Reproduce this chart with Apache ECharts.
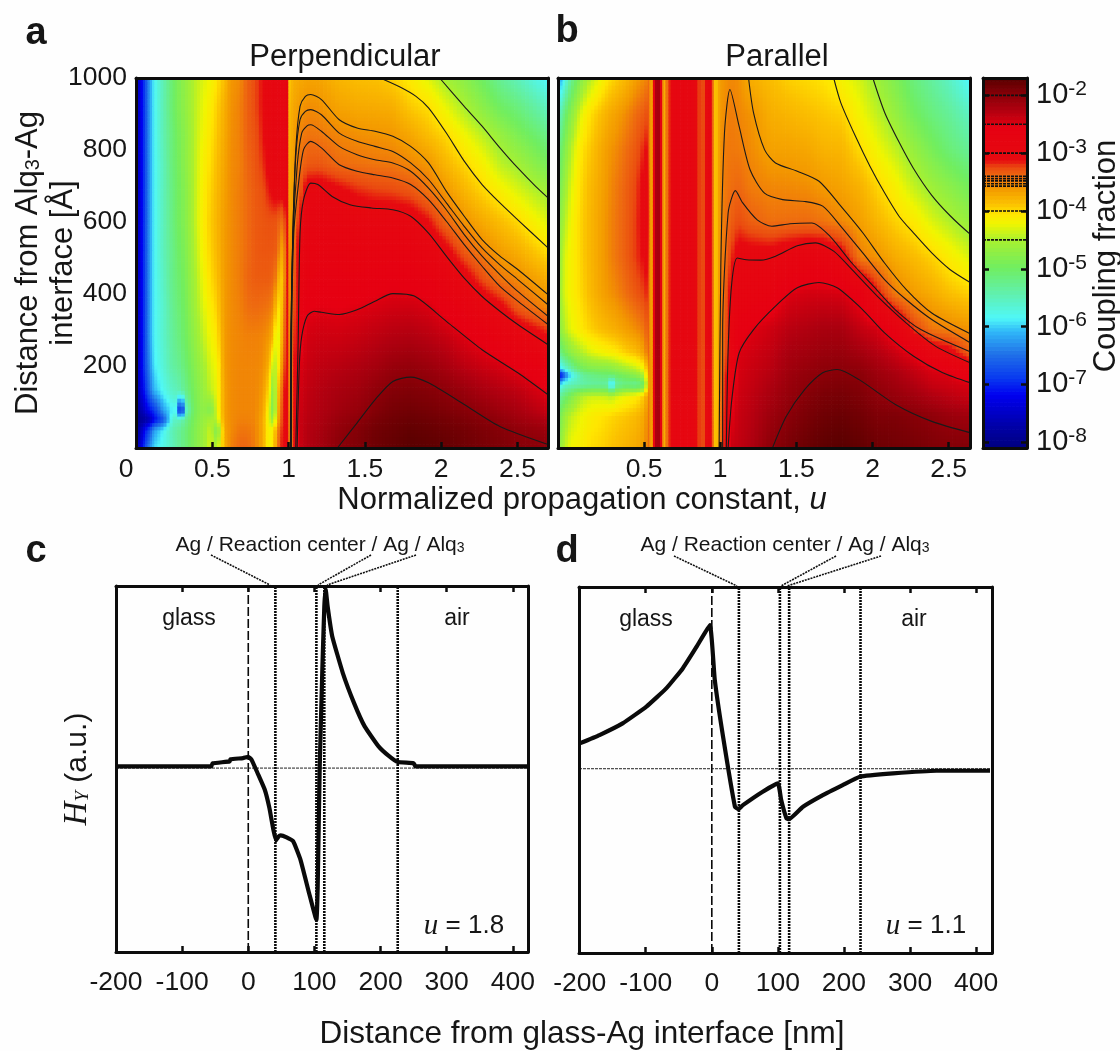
<!DOCTYPE html>
<html><head><meta charset="utf-8">
<style>html,body{margin:0;padding:0;background:#fff}#c{width:1120px;height:1051px}</style>
<script src="https://cdn.jsdelivr.net/npm/echarts@6/dist/echarts.min.js"></script>
</head><body><div id="c"></div>
<script>
// ---------- Colour scale (log10 coupling fraction -> colour)
const colourStops = [[-8.1,'#00007e'],[-7.65,'#0000b0'],[-7.18,'#0000f0'],[-6.9,'#0838f0'],[-6.48,'#2070e8'],[-6.08,'#30b8f8'],[-5.85,'#50f8f8'],[-5.44,'#60f0b0'],[-4.98,'#70ee60'],[-4.5,'#a8f030'],[-4.22,'#f0f500'],[-4.05,'#ffe600'],[-3.87,'#fbc000'],[-3.6,'#f39800'],[-3.4,'#ee6a10'],[-3.24,'#ea4a10'],[-3.12,'#e60a10'],[-2.54,'#e60012'],[-2.48,'#d80010'],[-2.25,'#b00010'],[-2,'#8a0008'],[-1.7,'#5a0000']];
const colourBarLevels = [-8.1,-7.65,-7.18,-6.9,-6.48,-6.08,-5.85,-5.44,-4.98,-4.5,-4.22,-4.05,-3.87,-3.6,-3.4,-3.24,-3.12,-2.54,-2.48,-2.25,-2,-1.7];
const contourLevels = [-2,-2.5,-3,-3.4,-3.44,-3.48,-3.53,-3.57,-4,-4.5];
const colourBarTicks = [-8,-7,-6,-5,-4,-3,-2];

// ---------- Panel a: Perpendicular
const perpU = [0,.03,.06,.09,.12,.18,.24,.27,.295,.32,.38,.44,.49,.53,.58,.62,.68,.73,.78,.83,.87,.9,.925,.945,.965,.985,.997,1.0,1.03,1.07,1.12,1.2,1.33,1.45,1.57,1.68,1.8,1.92,2.03,2.15,2.27,2.39,2.5,2.7];
const perpY = [1000,920,840,760,680,600,520,440,360,280,200,130,75,50,20,-28];
const perpLog = [
[-7.7,-7.7,-7.7,-7.7,-7.7,-7.7,-7.7,-7.7,-7.7,-7.7,-7.7,-7.8,-7.9,-8,-7.9,-7.8],
[-7.3,-7.3,-7.3,-7.3,-7.3,-7.3,-7.3,-7.3,-7.3,-7.3,-7.3,-7.4,-7.7,-7.9,-7.6,-7.4],
[-6.8,-6.8,-6.8,-6.8,-6.8,-6.8,-6.8,-6.8,-6.8,-6.8,-6.8,-7,-7.4,-7.8,-7.1,-6.8],
[-6.2,-6.2,-6.2,-6.2,-6.2,-6.2,-6.2,-6.2,-6.2,-6.2,-6.3,-6.5,-7.1,-7.6,-6.7,-6.3],
[-5.85,-5.85,-5.85,-5.85,-5.85,-5.85,-5.85,-5.85,-5.85,-5.85,-5.9,-6.1,-6.9,-7.2,-6.2,-5.95],
[-5.45,-5.45,-5.45,-5.5,-5.5,-5.5,-5.5,-5.55,-5.6,-5.6,-5.65,-5.8,-6.2,-6.7,-5.85,-5.75],
[-5.05,-5.05,-5.1,-5.1,-5.15,-5.15,-5.2,-5.2,-5.25,-5.3,-5.35,-5.55,-5.85,-5.6,-5.45,-5.5],
[-4.9,-4.9,-4.95,-5,-5,-5,-5.05,-5.1,-5.15,-5.2,-5.3,-5.5,-5.9,-5.55,-5.35,-5.35],
[-4.8,-4.8,-4.85,-4.85,-4.9,-4.9,-4.95,-5,-5.05,-5.1,-5.2,-5.4,-7.8,-5.5,-5.25,-5.25],
[-4.7,-4.7,-4.75,-4.75,-4.8,-4.8,-4.85,-4.9,-4.95,-5,-5.1,-5.25,-5.7,-5.3,-5.15,-5.15],
[-4.45,-4.45,-4.45,-4.45,-4.45,-4.45,-4.5,-4.55,-4.6,-4.7,-4.8,-4.9,-4.95,-4.9,-4.85,-4.85],
[-4.3,-4.25,-4.2,-4.15,-4.12,-4.1,-4.15,-4.22,-4.3,-4.4,-4.55,-4.65,-4.7,-4.65,-4.6,-4.6],
[-4.2,-4.1,-4.05,-4,-3.95,-3.92,-3.95,-4,-4.1,-4.2,-4.3,-4.4,-4.85,-4.5,-4.35,-4.3],
[-4.05,-3.95,-3.9,-3.85,-3.82,-3.8,-3.82,-3.87,-3.95,-4.05,-4.2,-4.25,-4.3,-4.45,-4.9,-4.5],
[-3.85,-3.75,-3.72,-3.68,-3.65,-3.62,-3.62,-3.62,-3.62,-3.62,-3.62,-3.65,-3.65,-3.65,-3.68,-3.75],
[-3.6,-3.58,-3.56,-3.55,-3.55,-3.55,-3.55,-3.55,-3.55,-3.55,-3.55,-3.55,-3.55,-3.55,-3.55,-3.5],
[-3.55,-3.5,-3.5,-3.5,-3.48,-3.48,-3.48,-3.48,-3.5,-3.52,-3.52,-3.52,-3.52,-3.5,-3.45,-3.38],
[-3.35,-3.35,-3.35,-3.38,-3.4,-3.4,-3.4,-3.38,-3.42,-3.5,-3.52,-3.52,-3.52,-3.5,-3.45,-3.38],
[-3.25,-3.25,-3.28,-3.3,-3.32,-3.32,-3.32,-3.33,-3.4,-3.5,-3.52,-3.52,-3.52,-3.52,-3.5,-3.48],
[-3.12,-3.12,-3.15,-3.2,-3.28,-3.3,-3.3,-3.33,-3.42,-3.52,-3.55,-3.6,-3.65,-3.7,-3.7,-3.7],
[-3,-3,-3,-3.05,-3.15,-3.28,-3.3,-3.33,-3.45,-3.6,-3.75,-4,-4.2,-4.25,-4.2,-4.2],
[-2.95,-2.95,-2.95,-2.98,-3.08,-3.28,-3.3,-3.38,-3.55,-3.8,-4.5,-4.9,-5,-4.7,-4.1,-4],
[-2.95,-2.95,-2.95,-2.98,-3.05,-3.3,-3.35,-3.55,-4,-4.5,-4.3,-4.05,-3.95,-3.85,-3.6,-3.5],
[-2.95,-2.95,-2.95,-3,-3.05,-3.4,-3.6,-4,-4.05,-4,-3.85,-3.6,-3.45,-3.4,-3.3,-3.25],
[-2.95,-2.95,-2.95,-3,-3.05,-3.4,-3.75,-3.8,-3.7,-3.6,-3.4,-3.25,-3.2,-3.15,-3.1,-3.05],
[-2.95,-2.95,-2.95,-2.97,-3,-3.1,-3.2,-3.25,-3.15,-3.1,-3.05,-3,-3,-2.95,-2.95,-2.95],
[-2.9,-2.9,-2.9,-2.9,-2.9,-2.9,-2.9,-2.9,-2.9,-2.9,-2.9,-2.9,-2.9,-2.9,-2.9,-2.9],
[-3.95,-3.85,-3.8,-3.75,-3.7,-3.65,-3.6,-3.6,-3.6,-3.6,-3.6,-3.6,-3.6,-3.6,-3.6,-3.6],
[-3.75,-3.7,-3.68,-3.65,-3.62,-3.6,-3.5,-3.45,-3.4,-3.35,-3.3,-3.3,-3.3,-3.3,-3.3,-3.3],
[-3.72,-3.62,-3.5,-3.43,-3.33,-3.1,-2.95,-2.85,-2.75,-2.65,-2.5,-2.45,-2.42,-2.4,-2.4,-2.4],
[-3.68,-3.55,-3.44,-3.32,-2.97,-2.88,-2.8,-2.7,-2.55,-2.45,-2.4,-2.35,-2.32,-2.3,-2.28,-2.27],
[-3.68,-3.57,-3.45,-3.3,-2.95,-2.85,-2.75,-2.65,-2.52,-2.42,-2.34,-2.28,-2.25,-2.23,-2.2,-2.18],
[-3.8,-3.68,-3.52,-3.4,-3.05,-2.87,-2.75,-2.65,-2.54,-2.42,-2.3,-2.2,-2.15,-2.1,-2.05,-2],
[-3.85,-3.72,-3.56,-3.43,-3.15,-2.93,-2.78,-2.66,-2.51,-2.38,-2.25,-2.15,-2.08,-2.02,-1.96,-1.93],
[-3.87,-3.73,-3.58,-3.45,-3.2,-2.95,-2.78,-2.62,-2.47,-2.32,-2.18,-2.04,-1.96,-1.9,-1.85,-1.82],
[-3.95,-3.75,-3.6,-3.46,-3.22,-2.93,-2.75,-2.58,-2.43,-2.27,-2.1,-1.96,-1.88,-1.84,-1.8,-1.76],
[-4.1,-3.92,-3.7,-3.52,-3.28,-2.96,-2.77,-2.6,-2.42,-2.25,-2.07,-1.94,-1.85,-1.8,-1.75,-1.7],
[-4.3,-4.02,-3.85,-3.6,-3.43,-3.12,-2.88,-2.68,-2.47,-2.3,-2.12,-1.97,-1.88,-1.83,-1.78,-1.72],
[-4.55,-4.25,-3.98,-3.8,-3.58,-3.38,-3.05,-2.83,-2.6,-2.37,-2.2,-2.02,-1.93,-1.87,-1.82,-1.76],
[-4.75,-4.5,-4.2,-3.97,-3.78,-3.57,-3.32,-3,-2.73,-2.5,-2.32,-2.1,-1.98,-1.92,-1.86,-1.82],
[-5,-4.75,-4.42,-4.15,-3.95,-3.72,-3.5,-3.25,-2.9,-2.6,-2.4,-2.2,-2.05,-1.98,-1.92,-1.88],
[-5.3,-5,-4.65,-4.42,-4.12,-3.85,-3.65,-3.45,-3.05,-2.75,-2.47,-2.27,-2.13,-2.05,-1.97,-1.92],
[-5.5,-5.15,-4.85,-4.55,-4.28,-3.98,-3.75,-3.53,-3.3,-2.87,-2.57,-2.33,-2.2,-2.13,-2.03,-1.97],
[-5.9,-5.55,-5.2,-4.9,-4.55,-4.3,-4.02,-3.75,-3.53,-3.1,-2.75,-2.53,-2.38,-2.25,-2.12,-2]
];
const perpContours = [
[[1.99,1000],[2.151,921],[2.268,866],[2.385,806],[2.502,750],[2.619,699],[2.7,667]],
[[1.6,1000],[1.73,975],[1.835,949],[1.917,917],[2.034,847],[2.151,769],[2.268,704],[2.385,653],[2.502,606],[2.7,528]],
[[1.012,-28],[1.015,292],[1.028,569],[1.047,801],[1.075,921],[1.11,949],[1.145,954],[1.215,940],[1.332,884],[1.449,861],[1.566,852],[1.683,838],[1.8,810],[1.917,764],[2.034,685],[2.151,616],[2.268,551],[2.385,505],[2.502,468],[2.7,398]],
[[1.014,-28],[1.016,292],[1.028,569],[1.047,782],[1.075,884],[1.11,907],[1.145,912],[1.215,898],[1.332,847],[1.449,824],[1.566,810],[1.683,796],[1.8,764],[1.917,718],[2.034,653],[2.151,588],[2.268,528],[2.385,481],[2.502,440],[2.7,370]],
[[1.016,-28],[1.018,292],[1.03,569],[1.056,755],[1.086,847],[1.121,867],[1.145,870],[1.215,852],[1.332,810],[1.449,787],[1.566,773],[1.683,764],[1.8,741],[1.917,694],[2.034,634],[2.151,565],[2.268,505],[2.385,454],[2.502,407],[2.7,338]],
[[1.018,-28],[1.02,292],[1.034,569],[1.063,699],[1.098,801],[1.145,824],[1.215,806],[1.332,759],[1.449,741],[1.566,731],[1.683,722],[1.8,704],[1.917,662],[2.034,602],[2.151,537],[2.268,477],[2.385,421],[2.502,380],[2.7,315]],
[[1.047,-28],[1.063,273],[1.075,569],[1.098,662],[1.145,708],[1.192,704],[1.285,671],[1.402,648],[1.543,639],[1.683,634],[1.8,616],[1.917,569],[2.034,505],[2.151,444],[2.268,393],[2.385,352],[2.502,315],[2.7,259]],
[[1.056,-28],[1.07,199],[1.086,282],[1.121,338],[1.168,352],[1.215,349],[1.332,343],[1.449,356],[1.566,380],[1.683,401],[1.824,394],[2.034,324],[2.268,245],[2.502,181],[2.7,120]],
[[1.32,-28],[1.449,42],[1.566,106],[1.683,157],[1.8,169],[1.917,153],[2.151,93],[2.385,32],[2.7,-18]]
];

// ---------- Panel b: Parallel
const paraU = [-.065,-.05,-.02,.02,.06,.1,.15,.22,.265,.287,.31,.38,.45,.5,.525,.535,.548,.558,.572,.585,.605,.618,.628,.64,.66,.69,.83,.85,.9,.925,.945,.958,.97,.985,1.0,1.03,1.07,1.12,1.2,1.33,1.45,1.57,1.68,1.8,1.92,2.03,2.15,2.27,2.39,2.5,2.64];
const paraY = [1000,900,800,700,600,500,400,300,235,190,175,147,115,60,-28];
const paraLog = [
[-6,-5.4,-5.2,-5,-4.85,-4.75,-4.7,-4.9,-5.5,-6.2,-7.6,-6,-5.5,-5.1,-4.85],
[-6.2,-5.5,-5.1,-4.9,-4.7,-4.6,-4.55,-4.7,-5.2,-6,-7.3,-5.9,-5.3,-4.9,-4.65],
[-5.8,-5.1,-4.8,-4.6,-4.45,-4.3,-4.3,-4.45,-4.95,-5.7,-6.6,-5.6,-5.1,-4.6,-4.4],
[-5.3,-4.75,-4.45,-4.3,-4.2,-4.15,-4.15,-4.25,-4.7,-5.4,-5.9,-5.5,-4.85,-4.4,-4.2],
[-5,-4.45,-4.2,-4.1,-4.05,-4.05,-4.05,-4.15,-4.55,-5.1,-5.6,-5.45,-4.6,-4.3,-4.15],
[-4.7,-4.2,-4.02,-3.95,-3.92,-3.92,-3.95,-4.05,-4.45,-4.95,-5.3,-5.4,-4.45,-4.2,-4.1],
[-4.45,-4.02,-3.9,-3.82,-3.8,-3.8,-3.82,-3.95,-4.3,-4.85,-5.2,-5.35,-4.35,-4.12,-4],
[-4.2,-3.85,-3.72,-3.68,-3.65,-3.65,-3.68,-3.85,-4.2,-4.8,-5.1,-5.35,-4.35,-4.05,-3.95],
[-4.05,-3.75,-3.62,-3.58,-3.55,-3.55,-3.6,-3.8,-4.15,-4.8,-5.05,-5.4,-4.4,-4,-3.9],
[-4,-3.7,-3.58,-3.52,-3.5,-3.5,-3.57,-3.77,-4.12,-4.75,-5.05,-6.4,-4.45,-3.98,-3.87],
[-3.95,-3.67,-3.55,-3.48,-3.46,-3.46,-3.54,-3.75,-4.1,-4.7,-5,-5.4,-4.35,-3.95,-3.85],
[-3.82,-3.55,-3.42,-3.36,-3.34,-3.34,-3.42,-3.65,-3.95,-4.55,-4.85,-5.2,-4.2,-3.9,-3.78],
[-3.65,-3.4,-3.3,-3.22,-3.2,-3.2,-3.3,-3.55,-3.85,-4.4,-4.7,-5.3,-4.1,-3.82,-3.72],
[-3.55,-3.32,-3.15,-3.05,-3.02,-3.1,-3.22,-3.45,-3.65,-4.2,-4.45,-5,-3.9,-3.7,-3.62],
[-3.5,-3.25,-3.1,-3,-2.98,-3.05,-3.15,-3.3,-3.4,-3.7,-3.8,-3.95,-3.6,-3.5,-3.45],
[-3.35,-3.35,-3.35,-3.35,-3.35,-3.35,-3.35,-3.35,-3.35,-3.35,-3.35,-3.35,-3.35,-3.35,-3.35],
[-3.85,-3.85,-3.85,-3.85,-3.85,-3.85,-3.85,-3.85,-3.85,-3.85,-3.85,-3.85,-3.85,-3.85,-3.85],
[-3.5,-3.5,-3.5,-3.5,-3.5,-3.5,-3.5,-3.5,-3.5,-3.5,-3.5,-3.5,-3.5,-3.5,-3.5],
[-2.3,-2.3,-2.3,-2.3,-2.3,-2.3,-2.3,-2.3,-2.3,-2.3,-2.3,-2.3,-2.3,-2.3,-2.3],
[-2.15,-2.15,-2.15,-2.15,-2.15,-2.15,-2.15,-2.15,-2.15,-2.15,-2.15,-2.15,-2.15,-2.15,-2.15],
[-2.25,-2.25,-2.25,-2.25,-2.25,-2.25,-2.25,-2.25,-2.25,-2.25,-2.25,-2.25,-2.25,-2.25,-2.25],
[-3,-3,-3,-3,-3,-3,-3,-3,-3,-3,-3,-3,-3,-3,-3],
[-3.9,-3.9,-3.9,-3.9,-3.9,-3.9,-3.9,-3.9,-3.9,-3.9,-3.9,-3.9,-3.9,-3.9,-3.9],
[-3.6,-3.6,-3.6,-3.6,-3.6,-3.6,-3.6,-3.6,-3.6,-3.6,-3.6,-3.6,-3.6,-3.6,-3.6],
[-3.25,-3.25,-3.25,-3.25,-3.25,-3.25,-3.25,-3.25,-3.25,-3.25,-3.25,-3.25,-3.25,-3.25,-3.25],
[-2.95,-2.95,-2.95,-2.95,-2.95,-2.95,-2.95,-2.95,-2.95,-2.95,-2.95,-2.95,-2.95,-2.95,-2.95],
[-2.95,-2.95,-2.95,-2.95,-2.95,-2.95,-2.95,-2.95,-2.95,-2.95,-2.95,-2.95,-2.95,-2.95,-2.95],
[-3.2,-3.2,-3.2,-3.2,-3.2,-3.2,-3.2,-3.2,-3.2,-3.2,-3.2,-3.2,-3.2,-3.2,-3.2],
[-3.25,-3.25,-3.25,-3.25,-3.25,-3.25,-3.25,-3.25,-3.25,-3.25,-3.25,-3.25,-3.25,-3.25,-3.25],
[-2.95,-2.95,-2.95,-2.95,-2.95,-2.95,-2.95,-2.95,-2.95,-2.95,-2.95,-2.95,-2.95,-2.95,-2.95],
[-2.95,-2.95,-2.95,-2.95,-2.95,-2.95,-2.95,-2.95,-2.95,-2.95,-2.95,-2.95,-2.95,-2.95,-2.95],
[-3.8,-3.8,-3.8,-3.8,-3.8,-3.8,-3.8,-3.8,-3.8,-3.8,-3.8,-3.8,-3.8,-3.8,-3.8],
[-3.95,-3.95,-3.95,-3.95,-3.95,-3.95,-3.95,-3.95,-3.95,-3.95,-3.95,-3.95,-3.95,-3.95,-3.95],
[-3.75,-3.75,-3.75,-3.75,-3.75,-3.75,-3.75,-3.75,-3.75,-3.75,-3.75,-3.75,-3.75,-3.75,-3.75],
[-3.62,-3.6,-3.58,-3.56,-3.55,-3.52,-3.5,-3.5,-3.5,-3.5,-3.5,-3.5,-3.5,-3.5,-3.5],
[-3.58,-3.55,-3.48,-3.47,-3.46,-3.44,-3.4,-3.38,-3.36,-3.3,-3.25,-3.2,-3.15,-3.1,-3.05],
[-3.53,-3.47,-3.46,-3.42,-3.35,-3.2,-3.02,-2.9,-2.85,-2.8,-2.78,-2.75,-2.65,-2.55,-2.4],
[-3.56,-3.52,-3.47,-3.39,-3.25,-3,-2.85,-2.62,-2.49,-2.47,-2.46,-2.44,-2.42,-2.38,-2.35],
[-3.75,-3.58,-3.54,-3.48,-3.35,-3,-2.8,-2.52,-2.44,-2.4,-2.39,-2.37,-2.34,-2.3,-2.25],
[-3.85,-3.75,-3.66,-3.53,-3.42,-3,-2.72,-2.42,-2.35,-2.3,-2.28,-2.24,-2.2,-2.12,-2.02],
[-3.95,-3.8,-3.67,-3.54,-3.41,-2.9,-2.5,-2.3,-2.2,-2.15,-2.13,-2.1,-2.07,-2,-1.9],
[-4,-3.85,-3.7,-3.56,-3.4,-2.83,-2.45,-2.25,-2.15,-2.08,-2.05,-2.02,-1.97,-1.9,-1.8],
[-4.05,-3.9,-3.78,-3.62,-3.44,-2.83,-2.45,-2.2,-2.1,-2.02,-2,-1.96,-1.9,-1.83,-1.73],
[-4.2,-3.95,-3.8,-3.68,-3.53,-3,-2.47,-2.2,-2.09,-2.01,-1.98,-1.93,-1.88,-1.8,-1.7],
[-4.35,-4.2,-4,-3.78,-3.65,-3.48,-2.65,-2.35,-2.17,-2.04,-2.01,-1.97,-1.93,-1.85,-1.75],
[-4.6,-4.4,-4.2,-3.97,-3.8,-3.58,-3.1,-2.45,-2.27,-2.15,-2.12,-2.07,-2.02,-1.93,-1.82],
[-4.85,-4.65,-4.4,-4.15,-3.95,-3.73,-3.48,-2.7,-2.4,-2.25,-2.2,-2.15,-2.08,-1.93,-1.85],
[-5.15,-4.95,-4.65,-4.4,-4.08,-3.83,-3.63,-3.2,-2.57,-2.37,-2.33,-2.25,-2.15,-1.98,-1.88],
[-5.35,-5.15,-4.9,-4.6,-4.3,-3.95,-3.73,-3.45,-2.9,-2.5,-2.45,-2.38,-2.25,-2.03,-1.93],
[-5.55,-5.3,-5.1,-4.75,-4.45,-4.1,-3.85,-3.5,-3,-2.62,-2.48,-2.42,-2.32,-2.1,-1.95],
[-5.9,-5.55,-5.3,-4.95,-4.65,-4.3,-3.95,-3.58,-3.35,-2.85,-2.72,-2.48,-2.4,-2.15,-1.95]
];
const paraContours = [
[[2.002,1000],[2.079,905],[2.174,822],[2.27,748],[2.389,674],[2.508,618],[2.644,565]],
[[1.745,1000],[1.792,931],[1.888,838],[1.983,755],[2.079,681],[2.174,616],[2.27,569],[2.389,514],[2.508,468],[2.644,431]],
[[.993,-28],[1.004,477],[1.028,847],[1.064,968],[1.124,866],[1.196,745],[1.291,680],[1.41,662],[1.554,657],[1.673,644],[1.792,588],[1.936,514],[2.079,440],[2.222,384],[2.389,329],[2.644,264]],
[[1.186,1000],[1.219,903],[1.291,801],[1.363,764],[1.506,741],[1.649,713],[1.792,644],[1.936,570],[2.079,486],[2.222,412],[2.389,347],[2.644,289]],
[[1.016,-28],[1.016,292],[1.052,625],[1.1,687],[1.148,653],[1.243,606],[1.339,588],[1.458,595],[1.601,597],[1.721,560],[1.864,486],[2.007,421],[2.15,356],[2.317,301],[2.644,239]],
[[1.04,-28],[1.052,245],[1.076,431],[1.112,500],[1.172,495],[1.267,494],[1.363,505],[1.506,534],[1.625,542],[1.745,519],[1.864,468],[2.031,394],[2.222,319],[2.413,255],[2.644,208]],
[[1.052,-28],[1.076,106],[1.124,236],[1.219,301],[1.363,366],[1.506,417],[1.649,432],[1.768,417],[1.936,356],[2.079,292],[2.27,227],[2.461,181],[2.644,153]],
[[1.343,-28],[1.434,60],[1.554,134],[1.673,181],[1.768,190],[1.912,162],[2.15,93],[2.389,46],[2.644,14]]
];

// ---------- Panels c and d: field profiles
const fieldC = [[-200,.009],[-56,.009],[-54,.026],[-28,.037],[-27,.048],[-8,.055],[0,.062],[5,.046],[14,-.027],[25,-.119],[32,-.22],[38,-.339],[42,-.397],[46,-.375],[49,-.37],[58,-.381],[68,-.403],[79,-.504],[92,-.687],[103,-.833],[105,-.65],[108,0],[112,.54],[115,.888],[117,.985],[120,.888],[127,.723],[143,.522],[160,.357],[176,.229],[197,.119],[212,.068],[226,.033],[250,.027],[253,.009],[423,.009]];
const fieldD = [[-200,.139],[-170,.185],[-135,.249],[-99,.341],[-69,.441],[-44,.551],[-23,.67],[-3,.789],[4.5,.487],[17,.176],[35,-.209],[40,-.222],[47,-.2],[77,-.126],[100,-.081],[105,-.172],[113,-.273],[117,-.277],[138,-.209],[168,-.145],[198,-.09],[224,-.044],[274,-.026],[340,-.011],[421,-.011]];
const layersC = [0,41,103,115,226];
const layersD = [0,41,103,117,225];
const distTickLabels = [-200,-100,0,100,200,300,400];
const distTicks = [-100,0,100,200,300,400];
const uLabelsA = [0,.5,1,1.5,2,2.5];
const uLabelsB = [.5,1,1.5,2,2.5];
const yLabels = [200,400,600,800,1000];

// ---------- Helpers
const FONT = '"Liberation Sans", Arial, sans-serif';
const SERIF = '"Liberation Serif", "Times New Roman", serif';
const INK = '#161616';
const rgbStops = colourStops.map(s => [s[0], parseInt(s[1].slice(1,3),16), parseInt(s[1].slice(3,5),16), parseInt(s[1].slice(5,7),16)]);
function colourOf(v){
  if (v <= rgbStops[0][0]) return colourStops[0][1];
  for (let i = 1; i < rgbStops.length; i++) {
    if (v <= rgbStops[i][0]) {
      const a = rgbStops[i-1], b = rgbStops[i], t = (v-a[0])/(b[0]-a[0]);
      return 'rgb(' + Math.round(a[1]+(b[1]-a[1])*t) + ',' + Math.round(a[2]+(b[2]-a[2])*t) + ',' + Math.round(a[3]+(b[3]-a[3])*t) + ')';
    }
  }
  return colourStops[colourStops.length-1][1];
}
const grids = [], xAxes = [], yAxes = [], series = [];
function addPanel(box, xr, yr, xo, yo){
  const g = grids.length;
  grids.push({left:box[0], top:box[1], width:box[2], height:box[3], show:false, outerBoundsMode:'none'});
  const line = {show:true, onZero:false, lineStyle:{color:'#0c0c0c', width:3}};
  const ix = xAxes.length, iy = yAxes.length;
  const base = {gridIndex:g, type:'value', splitLine:{show:false}, z:8, axisLine:line, scale:false};
  const labelStyle = {color:INK, fontFamily:FONT, fontSize:26.5};
  xAxes.push(Object.assign({}, base, {position:'bottom', min:xr[0], max:xr[1],
    axisTick:{show:!!xo.ticks, inside:true, length:6, lineStyle:{color:'#0c0c0c', width:2.5}, customValues:xo.ticks},
    axisLabel:Object.assign({show:!!xo.labels, customValues:xo.labels, margin:xo.margin||8, hideOverlap:false, showMinLabel:true, showMaxLabel:true}, labelStyle, xo.label||{})}));
  xAxes.push(Object.assign({}, base, {position:'top', min:xr[0], max:xr[1],
    axisTick:{show:!!xo.topTicks, inside:true, length:6, lineStyle:{color:'#0c0c0c', width:2.5}, customValues:xo.topTicks},
    axisLabel:{show:false}}));
  yAxes.push(Object.assign({}, base, {position:'left', min:yr[0], max:yr[1],
    axisTick:{show:!!yo.leftTicks, inside:true, length:6, lineStyle:{color:'#0c0c0c', width:2.5}, customValues:yo.leftTicks},
    axisLabel:Object.assign({show:!!yo.labels, customValues:yo.labels, margin:9, showMinLabel:true, showMaxLabel:true, formatter:v => String(v)}, labelStyle)}, yo.leftExtra||{}));
  yAxes.push(Object.assign({}, base, {position:'right', min:yr[0], max:yr[1],
    axisTick:{show:!!yo.rightTicks, inside:true, length:6, lineStyle:{color:'#0c0c0c', width:2.5}, customValues:yo.rightTicks},
    axisLabel:Object.assign({show:!!yo.rightLabels, customValues:yo.rightLabels, margin:9, showMinLabel:true, showMaxLabel:true}, labelStyle, yo.rightLabel||{})}, yo.rightExtra||{}));
  return {x:ix, y:iy};
}
function addField(ax, uNodes, yNodes, log){
  const data = [];
  for (let i = 0; i < uNodes.length-1; i++) for (let j = 0; j < yNodes.length-1; j++)
    data.push([uNodes[i], yNodes[j], uNodes[i+1], yNodes[j+1], log[i][j], log[i+1][j], log[i][j+1], log[i+1][j+1]]);
  series.push({type:'custom', xAxisIndex:ax.x, yAxisIndex:ax.y, data, silent:true, animation:false, progressive:0, z:1,
    encode:{x:[0,2], y:[1,3]}, clip:true,
    renderItem:function(params, api){
      const p0 = api.coord([api.value(0), api.value(1)]), p1 = api.coord([api.value(2), api.value(3)]);
      const w = p1[0]-p0[0], h = p1[1]-p0[1];
      const a = api.value(4), b = api.value(5), c = api.value(6), d = api.value(7);
      const nx = Math.max(1, Math.ceil(Math.abs(w)/4)), ny = Math.max(1, Math.ceil(Math.abs(h)/4));
      const children = [];
      for (let m = 0; m < nx; m++) for (let n = 0; n < ny; n++) {
        const fx = (m+.5)/nx, fy = (n+.5)/ny;
        const v = (a*(1-fx)+b*fx)*(1-fy) + (c*(1-fx)+d*fx)*fy;
        const yA = p0[1]+h*n/ny, yB = p0[1]+h*(n+1)/ny;
        children.push({type:'rect', shape:{x:p0[0]+w*m/nx, y:Math.min(yA,yB)-.35, width:w/nx+.7, height:Math.abs(yB-yA)+.7}, style:{fill:colourOf(v)}, silent:true});
      }
      return {type:'group', children};
    }});
}
function addContours(ax, sets){
  sets.forEach(pts => series.push({type:'line', xAxisIndex:ax.x, yAxisIndex:ax.y, data:pts, showSymbol:false, symbol:'none', smooth:.25, smoothMonotone:'none', silent:true, animation:false, z:5, clip:true, lineStyle:{color:'#1a1a1a', width:1.1}}));
}

// Panel a
const axA = addPanel([136,78,412,370],[0,2.7],[-28,1000],
  {ticks:[.5,1,1.5,2,2.5], labels:uLabelsA, label:{formatter:v => v===0 ? '{z|0}' : String(v), rich:{z:{fontFamily:FONT,fontSize:26.5,color:INK,padding:[0,20,0,0]}}}},
  {labels:yLabels, leftExtra:{name:'{t|Distance from Alq}{s|3}{t|-Ag}\n{t|interface [Å]}', nameLocation:'middle', nameRotate:90, nameGap:55, nameMoveOverlap:false,
    nameTextStyle:{align:'center', rich:{t:{fontFamily:FONT,fontSize:31,color:INK,lineHeight:35},s:{fontFamily:FONT,fontSize:20,color:INK,padding:[10,0,0,0],lineHeight:35}}}}});
addField(axA, perpU, perpY, perpLog);
addContours(axA, perpContours);

// Panel b
const axB = addPanel([558,78,412,370],[-.065,2.64],[-28,1000],{ticks:uLabelsB, labels:uLabelsB},{});
addField(axB, paraU, paraY, paraLog);
addContours(axB, paraContours);

// Colour bar
const axBar = addPanel([983,78,44,370],[0,1],[-8.1,-1.7],{},
  {leftTicks:colourBarTicks, rightTicks:colourBarTicks, rightLabels:colourBarTicks,
   rightLabel:{formatter:v => '{b|10}{e|'+v+'}', rich:{b:{fontFamily:FONT,fontSize:29,color:INK},e:{fontFamily:FONT,fontSize:21,color:INK,padding:[0,0,12,0]}}},
   rightExtra:{name:'Coupling fraction', nameLocation:'middle', nameRotate:90, nameGap:63, nameTextStyle:{fontFamily:FONT,fontSize:31,color:INK,padding:[0,0,0,14]}}});
addField(axBar,[0,1],colourBarLevels,[colourBarLevels,colourBarLevels]);
contourLevels.forEach(l => series.push({type:'line', xAxisIndex:axBar.x, yAxisIndex:axBar.y, data:[[0,l],[1,l]], showSymbol:false, symbol:'none', silent:true, animation:false, z:6, lineStyle:{color:'#111', width:1.6, type:[3,1]}}));

// Profiles
function addProfile(box, xr, yr, field, layers, yExtra){
  const ax = addPanel(box, xr, yr, {ticks:distTicks, topTicks:distTicks, labels:distTickLabels, margin:17}, {leftExtra:yExtra||{}});
  series.push({type:'line', xAxisIndex:ax.x, yAxisIndex:ax.y, data:[[xr[0],0],[xr[1],0]], showSymbol:false, symbol:'none', silent:true, animation:false, z:3, lineStyle:{color:'#222', width:1, type:[3,1]}});
  layers.forEach((x,i) => series.push({type:'line', xAxisIndex:ax.x, yAxisIndex:ax.y, data:[[x,yr[0]],[x,yr[1]]], showSymbol:false, symbol:'none', silent:true, animation:false, z:3, lineStyle:{color:'#0a0a0a', width:i===0?1.6:2.6, type:i===0?[9,3]:[2,1]}}));
  series.push({type:'line', xAxisIndex:ax.x, yAxisIndex:ax.y, data:field, showSymbol:false, symbol:'none', smooth:.12, silent:true, animation:false, z:4, lineStyle:{color:'#0a0a0a', width:4.2, join:'round'}});
}
addProfile([116,586,412,366],[-200,423],[-1.01,1],fieldC,layersC,
  {name:'{h|H}{y|Y}{t| (a.u.)}', nameLocation:'middle', nameRotate:90, nameGap:22,
   nameTextStyle:{rich:{h:{fontFamily:SERIF,fontStyle:'italic',fontSize:33,color:INK},y:{fontFamily:SERIF,fontStyle:'italic',fontSize:19,color:INK,padding:[10,0,0,0]},t:{fontFamily:FONT,fontSize:30,color:INK}}}});
addProfile([579,587,413,366],[-201,424],[-1.012,.998],fieldD,layersD);

// Free text and leader lines
function label(x,y,text,size,extra){
  return Object.assign({type:'text', x, y, silent:true, z:20, style:Object.assign({text, fill:INK, font:size+'px '+FONT, textAlign:'center', textVerticalAlign:'middle'}, extra||{})});
}
function letter(x,y,t){ return label(x,y,t,38,{font:'bold 38px '+FONT}); }
function leader(x1,y1,x2,y2){ return {type:'line', silent:true, z:20, shape:{x1,y1,x2,y2}, style:{stroke:'#111', lineWidth:1.6, lineDash:[2,1]}}; }
const layerRich = {t:{fontFamily:FONT,fontSize:21,fill:INK,color:INK},s:{fontFamily:FONT,fontSize:14,fill:INK,color:INK,padding:[7,0,0,0]}};
const uRich = {i:{fontFamily:SERIF,fontStyle:'italic',fontSize:29,color:INK,fill:INK},t:{fontFamily:FONT,fontSize:26,color:INK,fill:INK}};
const graphic = [
  letter(36,34,'a'), letter(567,32,'b'), letter(36,552,'c'), letter(567,552,'d'),
  {type:'text', x:582, y:500, silent:true, z:20, style:{text:'{t|Normalized propagation constant, }{i|u}', textAlign:'center', textVerticalAlign:'middle', rich:{t:{fontFamily:FONT,fontSize:31,color:INK,fill:INK},i:{fontFamily:FONT,fontStyle:'italic',fontSize:31,color:INK,fill:INK}}}},
  label(582,1034,'Distance from glass-Ag interface [nm]',31.5),
  {type:'text', x:320, y:545, silent:true, z:20, style:{text:'{t|Ag / Reaction center / Ag / Alq}{s|3}', textAlign:'center', textVerticalAlign:'middle', rich:layerRich}},
  {type:'text', x:785, y:545, silent:true, z:20, style:{text:'{t|Ag / Reaction center / Ag / Alq}{s|3}', textAlign:'center', textVerticalAlign:'middle', rich:layerRich}},
  leader(211,555,270,585), leader(371,555,318,585), leader(416,555,327,585),
  leader(674,556,737,586), leader(836,556,781,586), leader(881,556,787,586),
  label(189,619,'glass',23), label(457,619,'air',23), label(646,620,'glass',23), label(914,620,'air',23),
  {type:'text', x:464, y:926, silent:true, z:20, style:{text:'{i|u}{t| = 1.8}', textAlign:'center', textVerticalAlign:'middle', rich:uRich}},
  {type:'text', x:926, y:926, silent:true, z:20, style:{text:'{i|u}{t| = 1.1}', textAlign:'center', textVerticalAlign:'middle', rich:uRich}}
];

const chart = echarts.init(document.getElementById('c'), null, {renderer:'canvas', width:1120, height:1051});
chart.setOption({
  animation:false, backgroundColor:'#fefefe',
  title:[
    {text:'Perpendicular', left:340, top:37, textAlign:'center', textStyle:{fontFamily:FONT,fontSize:31,fontWeight:'normal',color:INK}},
    {text:'Parallel', left:772, top:37, textAlign:'center', textStyle:{fontFamily:FONT,fontSize:31,fontWeight:'normal',color:INK}}
  ],
  grid:grids, xAxis:xAxes, yAxis:yAxes, series, graphic
});
</script></body></html>
